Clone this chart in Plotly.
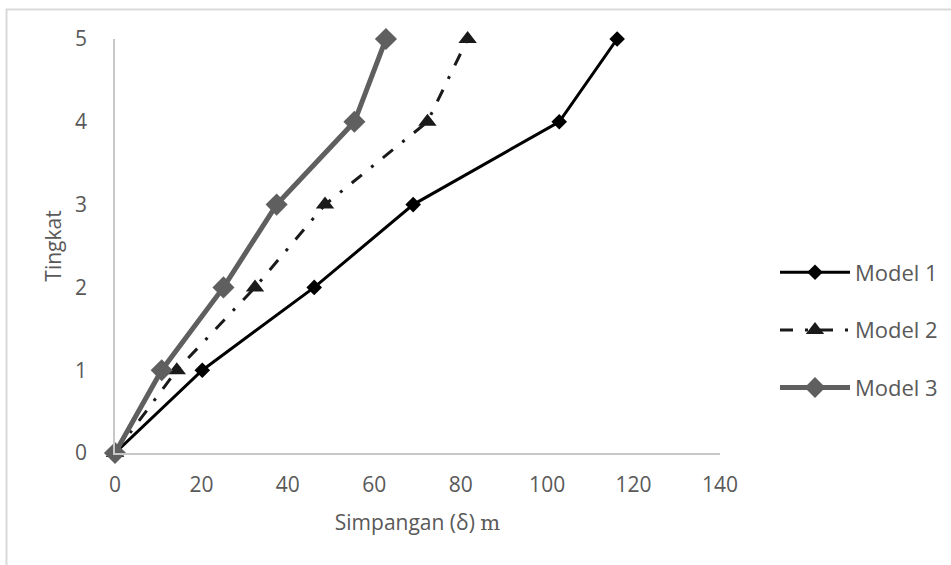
import plotly.graph_objects as go

tingkat = [0, 1, 2, 3, 4, 5]
model1 = [0, 20.2, 46.1, 69.0, 102.8, 116.2]
model2 = [0, 14.3, 32.4, 48.6, 72.3, 81.6]
model3 = [0, 10.8, 25.1, 37.4, 55.4, 62.7]
x_ticks = [0, 20, 40, 60, 80, 100, 120, 140]
y_ticks = [0, 1, 2, 3, 4, 5]

FONT = "Open Sans"
GREY_TXT = "#595959"
FS = 21

fig = go.Figure()
fig.add_trace(go.Scatter(
    x=model1, y=tingkat, name="Model 1", mode="lines+markers",
    line=dict(color="#000000", width=3),
    marker=dict(symbol="diamond", size=12, color="#000000"),
    legendgroup="g1", cliponaxis=False))
fig.add_trace(go.Scatter(
    x=model2, y=tingkat, name="Model 2", mode="lines+markers",
    line=dict(color="#1a1a1a", width=3, dash="13px,12px,3px,12px"),
    marker=dict(symbol="triangle-up", size=16, color="#1a1a1a"),
    legendgroup="g2", cliponaxis=False))
fig.add_trace(go.Scatter(
    x=model3, y=tingkat, name="Model 3", mode="lines+markers",
    line=dict(color="#5f5f5f", width=5),
    marker=dict(symbol="diamond", size=17, color="#5f5f5f"),
    legendgroup="g3", cliponaxis=False))

L, R, T, B = 115, 231, 39, 112
W, H = 951, 565
pw, ph = W - L - R, H - T - B

def px2paper_x(px):
    return (px - L) / pw

def px2paper_y(py):
    return (H - B - py) / ph

fig.update_layout(
    width=W, height=H,
    margin=dict(l=L, r=R, t=T, b=B, pad=0, autoexpand=False),
    paper_bgcolor="white", plot_bgcolor="white",
    font=dict(family=FONT, size=FS, color=GREY_TXT),
    showlegend=True,
    legend=dict(
        x=px2paper_x(775), xanchor="left",
        y=px2paper_y(330), yanchor="middle",
        font=dict(family=FONT, size=22, color=GREY_TXT),
        tracegroupgap=26, itemwidth=70,
        bgcolor="rgba(0,0,0,0)", traceorder="grouped",
    ),
    xaxis=dict(
        range=[0, 140], tickvals=x_ticks, showgrid=False, zeroline=False,
        showline=True, linecolor="#c8c8c8", linewidth=1.5,
        ticks="", ticklabelstandoff=12, automargin=False,
        tickfont=dict(family=FONT, size=FS, color=GREY_TXT),
        title=dict(text="Simpangan (δ) <span style='font-family:DejaVu Serif, Liberation Serif, serif'>m</span>",
                   font=dict(family=FONT, size=FS, color=GREY_TXT), standoff=18),
    ),
    yaxis=dict(
        range=[0, 5], tickvals=y_ticks, showgrid=False, zeroline=False,
        showline=True, linecolor="#c8c8c8", linewidth=1.5,
        ticks="", ticklabelstandoff=22, automargin=False,
        tickfont=dict(family=FONT, size=FS, color=GREY_TXT),
        title=dict(text="Tingkat", font=dict(family=FONT, size=FS, color=GREY_TXT), standoff=8),
    ),
    shapes=[dict(
        type="rect", xref="paper", yref="paper",
        x0=px2paper_x(6.5), x1=px2paper_x(1000),
        y0=px2paper_y(700), y1=px2paper_y(9.5),
        line=dict(color="#d9d9d9", width=2), fillcolor="rgba(0,0,0,0)", layer="below")],
)

fig.write_html("out.html")
